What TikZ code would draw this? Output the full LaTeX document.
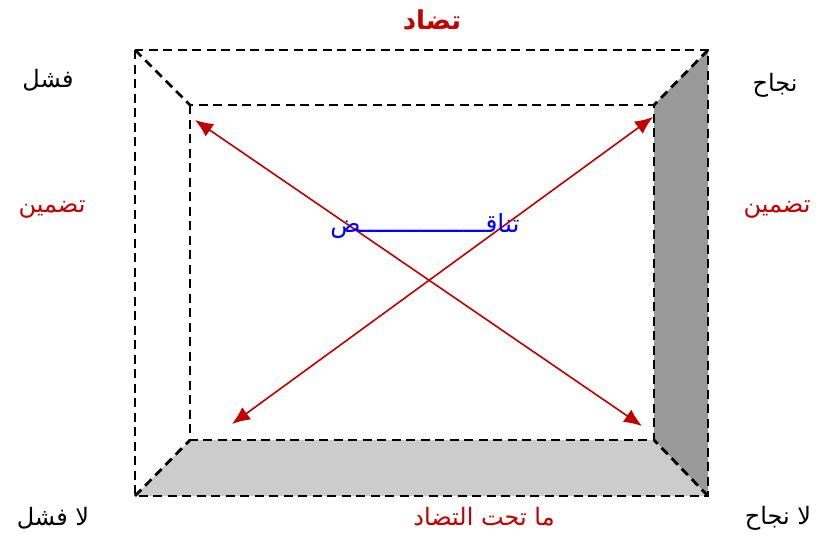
\documentclass[tikz,border=0pt]{standalone}
\usepackage{fontspec}
\newfontfamily\arabicfont[Script=Arabic]{DejaVu Sans}
\TeXXeTstate=1
\usetikzlibrary{arrows.meta}
\definecolor{darkred}{HTML}{C00000}
\definecolor{blueT}{HTML}{0000FF}
\tikzset{
  edgeline/.style={line width=2.8pt, dash pattern=on 9pt off 5.5pt, black},
  redarrow/.style={darkred, line width=1.6pt, {Latex[length=18pt,width=15pt]}-{Latex[length=18pt,width=15pt]}},
  lbl/.style={font=\arabicfont\fontsize{24}{28}\selectfont, inner sep=0pt},
}
\begin{document}
\begin{tikzpicture}[x=1pt,y=-1pt]
\useasboundingbox (0,0) rectangle (828,539);
% corners
\coordinate (OTL) at (135,50);
\coordinate (OTR) at (708,50);
\coordinate (OBL) at (135,496);
\coordinate (OBR) at (708,496);
\coordinate (ITL) at (190,105);
\coordinate (ITR) at (654,105);
\coordinate (IBL) at (190,440);
\coordinate (IBR) at (654,440);
% fills
\fill[fill={rgb,255:red,153;green,153;blue,153}] (OTR) -- (ITR) -- (IBR) -- (OBR) -- cycle;
\fill[fill={rgb,255:red,204;green,204;blue,204}] (IBL) -- (IBR) -- (OBR) -- (OBL) -- cycle;
% dashed edges
\draw[edgeline] (OTL) rectangle (OBR);
\draw[edgeline] (ITL) rectangle (IBR);
\draw[edgeline] (OTL) -- (ITL);
\draw[edgeline] (OTR) -- (ITR);
\draw[edgeline] (OBL) -- (IBL);
\draw[edgeline] (OBR) -- (IBR);
% arrows
\coordinate (A1) at (195,120);
\coordinate (A2) at (642,426);
\coordinate (B1) at (653,117);
\coordinate (B2) at (232,424);
\draw[redarrow] (A1) -- (A2);
\draw[redarrow] (B1) -- (B2);
% labels
\node[lbl, font=\arabicfont\bfseries\fontsize{26}{30}\selectfont, text=darkred] (tadad) at (432,20) {\beginR تضاد\endR};
\node[lbl] (fashal) at (48,80) {\beginR فشل\endR};
\node[lbl] (najah) at (775,85) {\beginR نجاح\endR};
\node[lbl, text=darkred] (tadminL) at (52,210) {\beginR تضمين\endR};
\node[lbl, text=darkred] (tadminR) at (777,210) {\beginR تضمين\endR};
\node[lbl] (lafashal) at (53,518) {\beginR لا فشل\endR};
\node[lbl] (lanajah) at (778,518) {\beginR لا نجاح\endR};
\node[lbl, text=darkred] (mataht) at (484,517) {\beginR ما تحت التضاد\endR};
\node[lbl, text=blueT, font=\arabicfont\fontsize{25}{28}\selectfont] (tanaqud) at (425,226) {\beginR تناقـــــــــــــــــض\endR};
\end{tikzpicture}
\end{document}
